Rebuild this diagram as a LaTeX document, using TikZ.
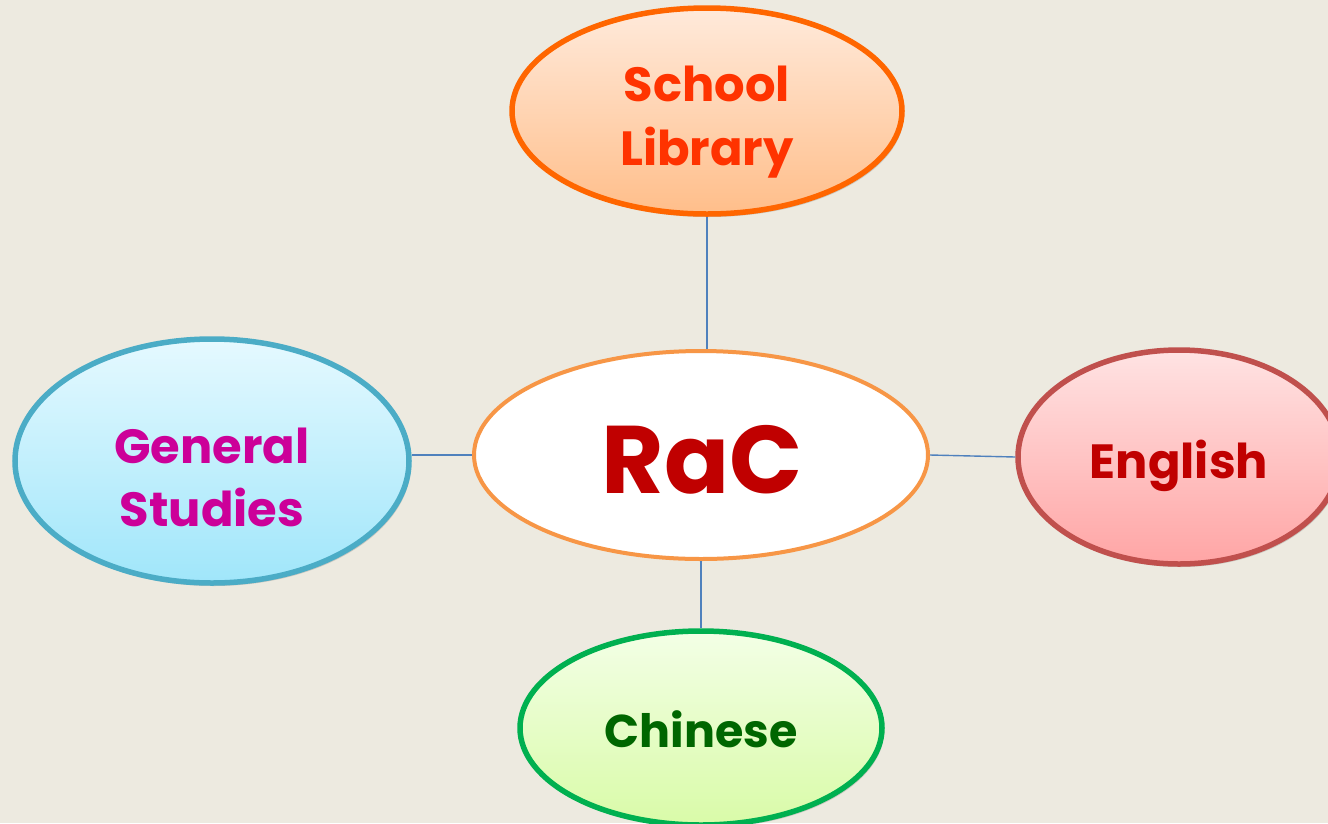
\documentclass[tikz,border=0pt]{standalone}
\usepackage{fontspec}
\newfontfamily\bubble{Poppins}
\usetikzlibrary{shapes.geometric,shadows}
\definecolor{paper}{HTML}{EDEAE0}
\definecolor{linkblue}{HTML}{4F81BD}
\definecolor{libline}{RGB}{255,102,0}
\definecolor{libtop}{RGB}{255,234,219}
\definecolor{libbot}{RGB}{255,190,138}
\definecolor{libtext}{RGB}{255,51,0}
\definecolor{gsline}{RGB}{75,172,198}
\definecolor{gstop}{RGB}{229,249,255}
\definecolor{gsbot}{RGB}{160,230,250}
\definecolor{gstext}{RGB}{204,0,153}
\definecolor{engline}{RGB}{192,80,77}
\definecolor{engtop}{RGB}{255,227,227}
\definecolor{engbot}{RGB}{255,165,165}
\definecolor{darkred}{RGB}{192,0,0}
\definecolor{chiline}{RGB}{0,176,80}
\definecolor{chitop}{RGB}{243,255,230}
\definecolor{chibot}{RGB}{217,251,168}
\definecolor{chitext}{RGB}{0,102,0}
\definecolor{racline}{RGB}{247,150,70}
\tikzset{
  bubblebox/.style={ellipse, inner sep=0pt, line width=5.5pt,
    drop shadow={shadow xshift=2pt, shadow yshift=-3pt, opacity=0.22, fill=black!70}},
  word/.style={anchor=base, inner sep=0pt,
    font=\bubble\bfseries\fontsize{48}{64}\selectfont},
  link/.style={draw=linkblue, line width=1.4pt}
}
\begin{document}
\begin{tikzpicture}[x=1pt,y=-1pt]
  \useasboundingbox (0,0) rectangle (1328,823);
  \clip (0,0) rectangle (1328,823);
  \fill[paper] (0,0) rectangle (1328,823);

  % outer topic bubbles
  \node[bubblebox, draw=libline, top color=libtop, bottom color=libbot,
        minimum width=390pt, minimum height=206pt] (lib) at (707,111) {};
  \node[bubblebox, draw=gsline, top color=gstop, bottom color=gsbot,
        minimum width=394pt, minimum height=244pt] (gs) at (212,461) {};
  \node[bubblebox, draw=engline, top color=engtop, bottom color=engbot,
        minimum width=322pt, minimum height=214pt] (eng) at (1179,457) {};
  \node[bubblebox, draw=chiline, top color=chitop, bottom color=chibot,
        minimum width=362pt, minimum height=194pt] (chi) at (701,728) {};

  % central topic bubble
  \node[ellipse, inner sep=0pt, line width=4pt, draw=racline, fill=white,
        minimum width=454pt, minimum height=208pt] (rac) at (701,455) {};

  % labels
  \node[word, text=libtext] (libA) at (707,101) {School};
  \node[word, text=libtext] (libB) at (707,165) {Library};
  \node[word, text=gstext] (gsA) at (212,463) {General};
  \node[word, text=gstext] (gsB) at (212,526) {Studies};
  \node[word, text=darkred] (engA) at (1179,478) {English};
  \node[word, text=chitext, font=\bubble\bfseries\fontsize{46}{60}\selectfont]
        (chiA) at (701,747) {Chinese};
  \node[word, text=darkred, font=\bubble\bfseries\fontsize{96}{110}\selectfont]
        (racA) at (702,493) {RaC};

  % connectors
  \draw[link] (lib.south) -- (lib.south |- rac.north);
  \draw[link] (gs.east |- rac.west) -- (rac.west);
  \draw[link] (rac.east) -- (eng.west);
  \draw[link] (rac.south) -- (chi.north);
\end{tikzpicture}
\end{document}
